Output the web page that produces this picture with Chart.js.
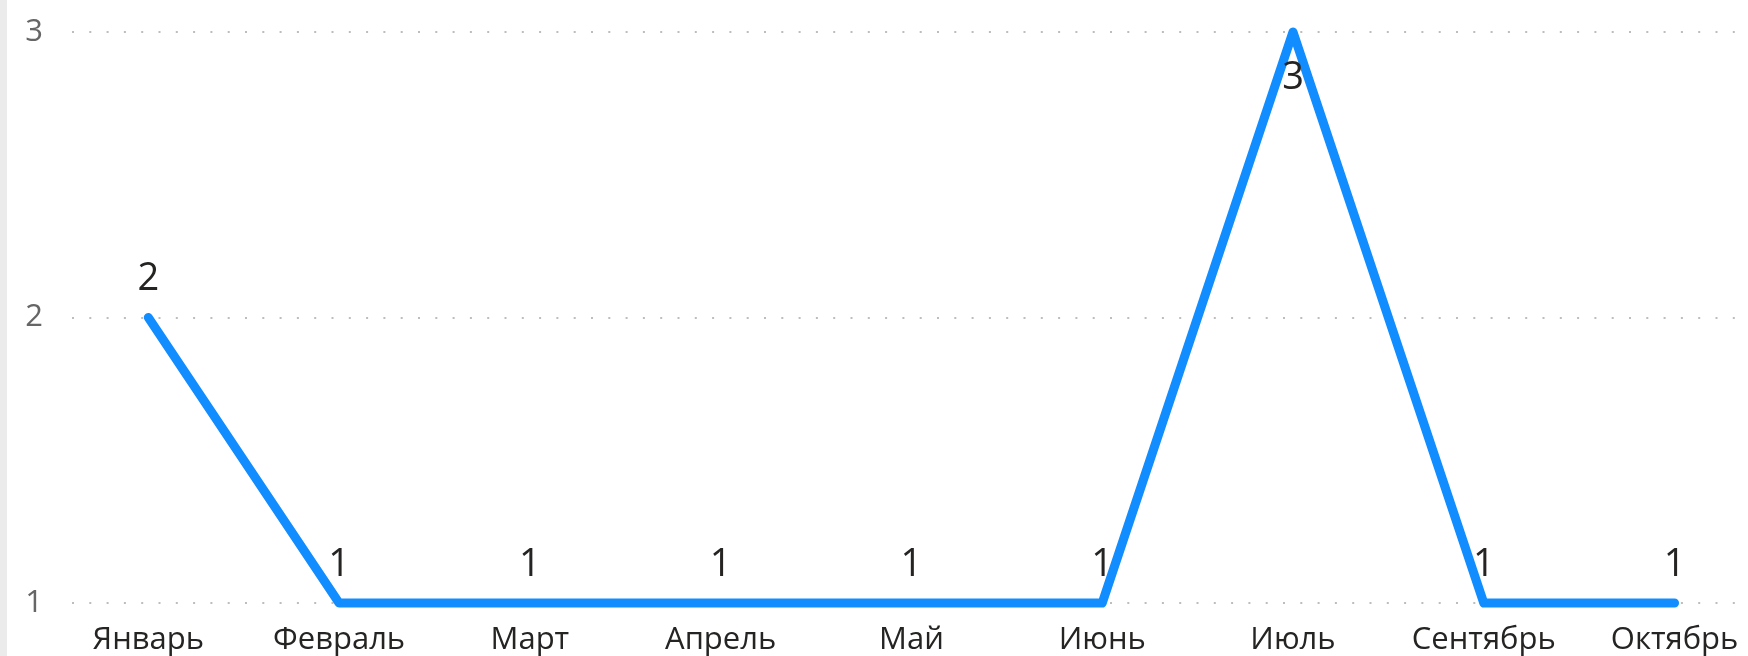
<!DOCTYPE html>
<html>
<head>
<meta charset="utf-8">
<script src="https://cdn.jsdelivr.net/npm/chart.js@4/dist/chart.umd.min.js"></script>
<style>
  html, body { margin: 0; padding: 0; background: #ffffff; overflow: hidden; }
  #strip { position: absolute; left: 0; top: 0; width: 7px; height: 656px; background: #ebebeb; }
  #wrap { position: absolute; left: 7px; top: 0; width: 1741px; height: 656px; }
</style>
</head>
<body>
<div id="strip"></div>
<div id="wrap"><canvas id="c" width="1741" height="656"></canvas></div>
<script>
const categories = ['Январь', 'Февраль', 'Март', 'Апрель', 'Май', 'Июнь', 'Июль', 'Сентябрь', 'Октябрь'];
const values = [2, 1, 1, 1, 1, 1, 3, 1, 1];
const yTicks = [1, 2, 3];

const FONT = "'Open Sans', 'Noto Sans', 'DejaVu Sans', sans-serif";

const points = categories.map((c, i) => ({ x: i, y: values[i] }));

const dataLabels = {
  id: 'dataLabels',
  afterDatasetsDraw(chart) {
    const ctx = chart.ctx;
    const meta = chart.getDatasetMeta(0);
    ctx.save();
    ctx.font = '38px ' + FONT;
    ctx.fillStyle = '#252423';
    ctx.textAlign = 'center';
    ctx.textBaseline = 'middle';
    meta.data.forEach((pt, i) => {
      let y = pt.y - 38;
      if (y - 16 < 0) y = pt.y + 46;
      ctx.fillText(String(values[i]), pt.x, y);
    });
    ctx.restore();
  }
};

new Chart(document.getElementById('c'), {
  type: 'line',
  data: {
    datasets: [{
      data: points,
      borderColor: '#118DFF',
      borderWidth: 9,
      borderCapStyle: 'round',
      borderJoinStyle: 'round',
      tension: 0,
      pointRadius: 0,
      pointHoverRadius: 0,
      fill: false,
      clip: false
    }]
  },
  options: {
    responsive: false,
    devicePixelRatio: 1,
    animation: false,
    events: [],
    layout: { padding: { top: 32, right: 0, bottom: 0, left: 0 } },
    plugins: { legend: { display: false }, tooltip: { enabled: false } },
    scales: {
      x: {
        type: 'linear',
        min: -0.4,
        max: 8.385,
        afterBuildTicks(s) { s.ticks = categories.map((c, i) => ({ value: i })); },
        afterFit(s) { s.height = 53; s.paddingLeft = 0; s.paddingRight = 0; },
        grid: { display: false, drawTicks: false },
        border: { display: false },
        ticks: {
          autoSkip: false,
          maxRotation: 0,
          padding: 19,
          color: '#252423',
          font: { family: FONT, size: 31 },
          callback: (v) => categories[v]
        }
      },
      y: {
        min: 1,
        max: 3,
        afterBuildTicks(s) { s.ticks = yTicks.map(v => ({ value: v })); },
        afterFit(s) { s.width = 65; s.paddingTop = 0; s.paddingBottom = 0; },
        grid: { color: '#bdbdbd', lineWidth: 2, drawTicks: false },
        border: { display: false, dash: [2, 15.3] },
        ticks: {
          padding: 29,
          color: '#666666',
          font: { family: FONT, size: 31 }
        }
      }
    }
  },
  plugins: [dataLabels]
});
</script>
</body>
</html>
